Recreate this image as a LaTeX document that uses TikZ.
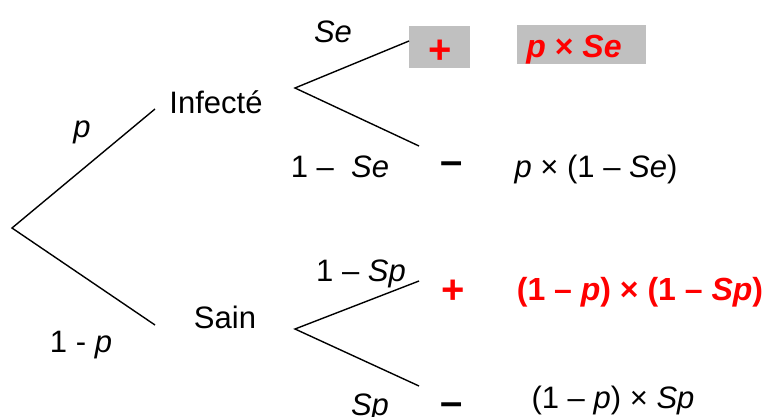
\documentclass[tikz,border=0pt]{standalone}
\usepackage{fontspec}
\setmainfont{Liberation Sans}
\definecolor{boxgray}{RGB}{192,192,192}
\definecolor{pred}{RGB}{255,0,0}
\begin{document}
\begin{tikzpicture}[x=1pt,y=-1pt,
  lbl/.style={anchor=base,inner sep=0pt,font=\fontsize{31}{35}\selectfont},
  redlbl/.style={lbl,text=pred,font=\fontsize{32}{36}\selectfont\bfseries},
  sign/.style={inner sep=0pt,font=\fontsize{40}{44}\selectfont\bfseries},
  branch/.style={line width=1.4pt},
  graybox/.style={fill=boxgray,inner sep=0pt}]
\useasboundingbox (0,0) rectangle (764,416);
\clip (0,0) rectangle (764,416);
% boxes
\node[graybox,minimum width=61pt,minimum height=42pt] (box1) at (439.5,47) {};
\node[graybox,minimum width=129pt,minimum height=39pt] (box2) at (581.5,44.5) {};
% coordinates of the tree
\coordinate (root) at (12,228);
\coordinate (infE) at (155,109);
\coordinate (saiE) at (155,325);
\coordinate (infF) at (295,88);
\coordinate (infT) at (409,41);
\coordinate (infB) at (419,146);
\coordinate (saiF) at (295,329);
\coordinate (saiT) at (419,281);
\coordinate (saiB) at (419,386);
\draw[branch] (infE) -- (root) -- (saiE);
\draw[branch] (infT) -- (infF) -- (infB);
\draw[branch] (saiT) -- (saiF) -- (saiB);
% first level labels
\node[lbl] (inf) at (216,113) {Infecté};
\node[lbl] (sai) at (225,328) {Sain};
\node[lbl] (lp) at (82,137) {\itshape p};
\node[lbl] (l1p) at (81,352) {1 - \itshape p};
% second level labels
\node[lbl] (lse) at (333,42) {\itshape Se};
\node[lbl] (l1se) at (340,177) {1 –\ \ \itshape Se};
\node[lbl] (l1sp) at (361,281) {1 – \itshape Sp};
\node[lbl] (lsp) at (370,415) {\itshape Sp};
% signs
\node[sign,text=pred] (plus1) at (440,52) {+};
\node[sign,anchor=base] (minus1) at (452,174) {–};
\node[sign,text=pred] (plus2) at (453,292) {+};
\node[sign,anchor=base] (minus2) at (452,415) {–};
% results
\node[redlbl] (r1) at (574,57) {\itshape p\upshape{} × \itshape Se};
\node[lbl] (r2) at (596,177) {\itshape p\upshape{} × (1 – \itshape Se\upshape)};
\node[redlbl] (r3) at (640,300) {(1 – \itshape p\upshape) × (1 – \itshape Sp\upshape)};
\node[lbl] (r4) at (613,408) {(1 – \itshape p\upshape) × \itshape Sp};
\end{tikzpicture}
\end{document}
